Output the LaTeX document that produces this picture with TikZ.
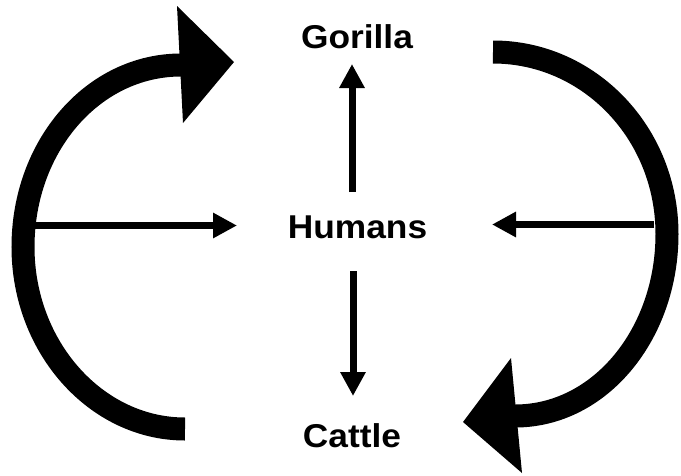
\documentclass[tikz,border=0pt]{standalone}
\usepackage{fontspec}
\newfontfamily\labfont[FakeStretch=1.07]{Liberation Sans}
\usetikzlibrary{arrows.meta}
\begin{document}
\begin{tikzpicture}[x=1pt,y=-1pt,
  lab/.style={font=\labfont\bfseries\fontsize{33}{33}\selectfont, anchor=base, inner sep=0pt},
  thin arrow/.style={line width=7pt, -{Triangle[length=24pt,width=24pt]}},
  big arc/.style={line width=23pt},
  big head/.style={fill=black}]
\useasboundingbox (0,0) rectangle (681,475);
% labels
\node[lab] (gorilla) at (357,48) {Gorilla};
\node[lab] (humans) at (357.5,238) {Humans};
\node[lab] (cattle) at (352,447) {Cattle};
% small arrows
\coordinate (upS) at (352,192);
\coordinate (upT) at (352,64);
\coordinate (dnS) at (353,271);
\coordinate (dnT) at (353,396);
\coordinate (lS) at (35,225.5);
\coordinate (lT) at (237,225.5);
\coordinate (rS) at (654,224.5);
\coordinate (rT) at (492,224.5);
\draw[thin arrow] (upS) -- (upT);
\draw[thin arrow] (dnS) -- (dnT);
\draw[thin arrow] (lS) -- (lT);
\draw[thin arrow] (rS) -- (rT);
% left big curved arrow
\draw[big arc] (185,429) .. controls (96,429) and (23,347) .. (23,247)
  .. controls (23,146) and (93,65) .. (181,65);
\fill[big head] (177,6) -- (234,62) -- (183,123) -- cycle;
% right big curved arrow
\draw[big arc] (493,52) .. controls (589,52) and (667,133) .. (667,234)
  .. controls (667,334) and (600,416) .. (515,416);
\fill[big head] (511,358) -- (463,422) -- (522,473) -- cycle;
\end{tikzpicture}
\end{document}
